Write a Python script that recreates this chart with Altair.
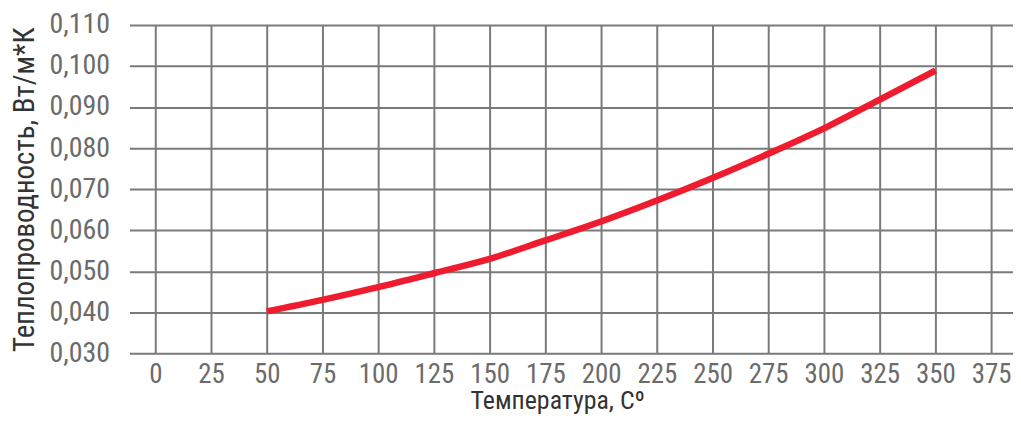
import altair as alt
import pandas as pd

temps = [50, 75, 100, 125, 150, 175, 200, 225, 250, 275, 300, 325, 350]
conductivity = [0.0402, 0.0430, 0.0461, 0.0495, 0.0530, 0.0575, 0.0621, 0.0672, 0.0727, 0.0786, 0.0848, 0.0918, 0.0989]
x_ticks = list(range(0, 400, 25))
y_ticks = [0.03, 0.04, 0.05, 0.06, 0.07, 0.08, 0.09, 0.10, 0.11]

df = pd.DataFrame({"t": temps, "k": conductivity})

FONT = "Liberation Sans Narrow, Roboto Condensed, Roboto"

chart = alt.Chart(df).mark_line(color="#ee1c2e", strokeWidth=6.5, interpolate="monotone").encode(
    x=alt.X("t:Q",
            scale=alt.Scale(domain=[-11.6, 384.8], nice=False, zero=False),
            axis=alt.Axis(values=x_ticks, title="Температура, Cº", grid=True, domain=False,
                          ticks=False, labelPadding=8, labelFontSize=27, labelColor="#6b6b6b",
                          labelFont=FONT, titleFont=FONT, titleFontSize=26, titleColor="#333333",
                          titleFontWeight="normal", titlePadding=0, titleX=430,
                          gridColor="#7a7a7a", gridWidth=2, gridOpacity=1, labelFlush=False)),
    y=alt.Y("k:Q",
            scale=alt.Scale(domain=[0.03, 0.11], nice=False, zero=False),
            axis=alt.Axis(values=y_ticks, title="Теплопроводность, Вт/м*К", grid=True, domain=False,
                          ticks=False, labelPadding=20, labelFontSize=28, labelColor="#6b6b6b",
                          labelExpr="replace(format(datum.value, '.3f'), '.', ',')",
                          labelFont=FONT, titleFont=FONT, titleFontSize=29, titleColor="#333333",
                          titleFontWeight="normal", titlePadding=10,
                          gridColor="#7a7a7a", gridWidth=2, gridOpacity=1)),
).properties(
    width=888, height=330,
    autosize=alt.AutoSizeParams(type="none"),
    padding={"left": 122, "top": 16, "right": 0, "bottom": 61},
).configure_view(stroke=None)

chart.save("out.html", embed_options={"renderer": "svg", "actions": False})
